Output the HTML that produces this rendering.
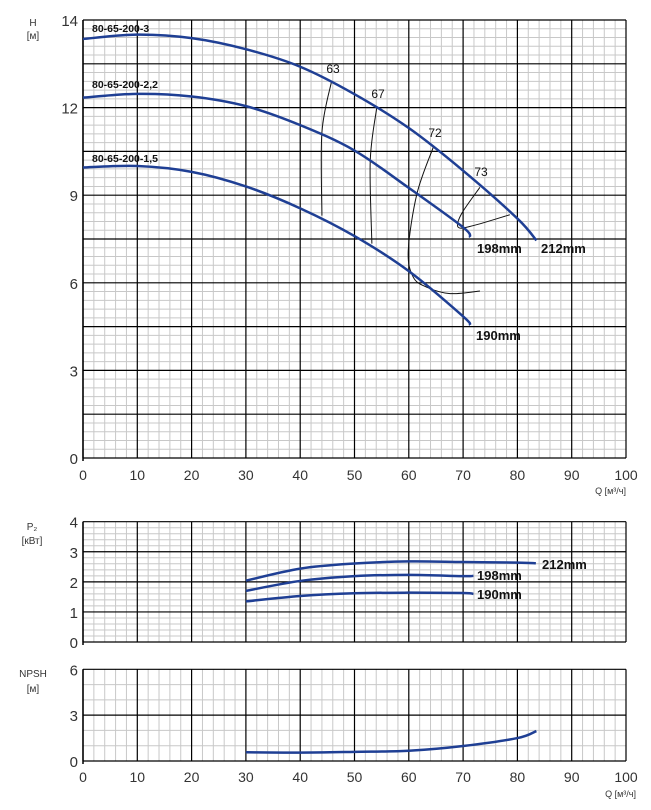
<!DOCTYPE html>
<html><head><meta charset="utf-8"><style>
body{margin:0;background:#fff;}
svg{display:block;font-family:"Liberation Sans","DejaVu Sans",sans-serif;}
</style></head><body>
<svg id="c" width="651" height="810" viewBox="0 0 651 810"></svg>
<script>
const qTicks=[0,10,20,30,40,50,60,70,80,90,100];
const hTickVals=[0,3,6,9,12];
const pTickVals=[0,1,2,3,4];
const nTickVals=[0,3,6];
const seriesNames=['212mm','198mm','190mm'];
const modelNames=['80-65-200-3','80-65-200-2,2','80-65-200-1,5'];
const hQ212=[0,10,20,30,40,50,60,70,80,83.5];
const hH212=[14.35,14.5,14.38,14.0,13.4,12.46,11.3,9.84,8.2,7.45];
const hQ198=[0,10,20,30,40,50,60,70,71.3];
const hH198=[12.34,12.47,12.38,12.05,11.4,10.53,9.25,7.9,7.56];
const hQ190=[0,10,20,30,40,50,60,70,71.3];
const hH190=[9.95,10.0,9.8,9.3,8.55,7.6,6.4,4.85,4.55];
const effLabels=['63','67','72','73'];
const eff63Q=[45.8,44.0,44.0];const eff63H=[12.92,11.15,8.3];
const eff67Q=[54.1,52.9,53.2];const eff67H=[12.0,10.18,7.34];
const eff72Q=[64.5,61.5,59.9,60.8,63.3,67.6,73.1];const eff72H=[10.64,9.05,7.1,6.2,5.85,5.63,5.72];
const eff73Q=[73.1,69.7,69.1,71.9,78.6];const eff73H=[9.27,8.36,7.9,7.96,8.33];
const pQ212=[30,40,50,60,70,80,83.4];const pP212=[2.04,2.44,2.61,2.68,2.66,2.64,2.62];
const pQ198=[30,40,50,60,70,71.9];const pP198=[1.70,2.03,2.19,2.23,2.19,2.2];
const pQ190=[30,40,50,60,70,71.9];const pP190=[1.35,1.53,1.62,1.64,1.63,1.6];
const nQ=[30,40,50,60,70,80,83.5];const nN=[0.57,0.55,0.6,0.67,0.98,1.5,1.96];

const NS='http://www.w3.org/2000/svg';
const svg=document.getElementById('c');
const X0=83,X1=626;
const xs=q=>X0+q*(X1-X0)/100;
const yH=h=>458-h*(458-20)/15;
const yP=p=>642-p*(642-521.7)/4;
const yN=n=>761-n*(761-669.3)/6;
function el(t,a,parent){const e=document.createElementNS(NS,t);for(const k in a)e.setAttribute(k,a[k]);(parent||svg).appendChild(e);return e;}
function smooth(pts){let d='M'+pts[0][0]+','+pts[0][1];for(let i=0;i<pts.length-1;i++){const p0=pts[i-1]||pts[i],p1=pts[i],p2=pts[i+1],p3=pts[i+2]||p2;const c1=[p1[0]+(p2[0]-p0[0])/6,p1[1]+(p2[1]-p0[1])/6],c2=[p2[0]-(p3[0]-p1[0])/6,p2[1]-(p3[1]-p1[1])/6];d+=' C'+c1+' '+c2+' '+p2;}return d;}
function grid(name,yTop,yBot,vMin,vMax,minorStep,majorStep,yf){
  const g=el('g',{});
  
  
  for(let q=0;q<=100;q+=2){if(q%10)el('line',{x1:xs(q),x2:xs(q),y1:yTop,y2:yBot,stroke:'#c8c8c8','stroke-width':1},g);}
  for(let v=vMin;v<=vMax+1e-6;v+=minorStep){const r=Math.round(v/majorStep*1000)/1000;if(Math.abs(r-Math.round(r))>1e-3)el('line',{x1:X0,x2:X1,y1:yf(v),y2:yf(v),stroke:'#c8c8c8','stroke-width':1},g);}
  for(let q=0;q<=100;q+=10)el('line',{x1:xs(q),x2:xs(q),y1:yTop,y2:yBot,stroke:'#000','stroke-width':1.2},g);
  for(let v=vMin;v<=vMax+1e-6;v+=majorStep)el('line',{x1:X0,x2:X1,y1:yf(v),y2:yf(v),stroke:'#000','stroke-width':1.2},g);
  el('line',{x1:X0,x2:X0,y1:yTop,y2:yBot+3,stroke:'#000','stroke-width':1.5},g);
}
function text(str,x,y,a,name){const t=el('text',Object.assign({x:x,y:y},a));t.textContent=str;return t;}
function curve(Q,V,yf,name,w,col){const p=el('path',{d:smooth(Q.map((q,i)=>[xs(q),yf(V[i])])),fill:'none',stroke:col,'stroke-width':w});}
grid('head',20,458,0,15,0.3,1.5,yH);
grid('power',521.7,642,0,4,0.2,1,yP);
grid('npsh',669.3,761,0,6,1,3,yN);
const tk={fill:'#333','font-size':15,'text-anchor':'end'};
hTickVals.forEach(v=>text(String(v),78,yH(v)+6,tk,'head-y-tick'));
text('14',78,26,tk,'head-y-tick');
pTickVals.forEach(v=>text(String(v),78,yP(v)+6,tk,'power-y-tick'));
nTickVals.forEach(v=>text(String(v),78,yN(v)+6,tk,'npsh-y-tick'));
qTicks.forEach(q=>{text(String(q),xs(q),480,{fill:'#333','font-size':14,'text-anchor':'middle'},'head-x-tick');text(String(q),xs(q),782,{fill:'#333','font-size':14,'text-anchor':'middle'},'npsh-x-tick');});
const al={fill:'#333','font-size':10,'text-anchor':'middle'};
text('H',33,26,al,'head-axis-title');text('[м]',33,39,al,'head-axis-unit');
text('P₂',32,530,al,'power-axis-title');text('[кВт]',32,544,al,'power-axis-unit');
text('NPSH',33,677,al,'npsh-axis-title');text('[м]',33,692,al,'npsh-axis-unit');
text('Q [м³/ч]',626,494,{fill:'#333','font-size':9,'text-anchor':'end'},'head-x-axis-title');
text('Q [м³/ч]',636,797,{fill:'#333','font-size':9,'text-anchor':'end'},'npsh-x-axis-title');
[[eff63Q,eff63H],[eff67Q,eff67H],[eff72Q,eff72H],[eff73Q,eff73H]].forEach((e,i)=>curve(e[0],e[1],yH,'efficiency-curve-'+effLabels[i],1,'#111'));
const eLab=[[333,73],[378,98],[435,137],[481,176]];
effLabels.forEach((l,i)=>text(l,eLab[i][0],eLab[i][1],{fill:'#111','font-size':12,'text-anchor':'middle'},'efficiency-label-'+l));
const blue='#1f3f94';
curve(hQ212,hH212,yH,'head-curve-212mm',2.5,blue);
curve(hQ198,hH198,yH,'head-curve-198mm',2.5,blue);
curve(hQ190,hH190,yH,'head-curve-190mm',2.5,blue);
curve(pQ212,pP212,yP,'power-curve-212mm',2.5,blue);
curve(pQ198,pP198,yP,'power-curve-198mm',2.5,blue);
curve(pQ190,pP190,yP,'power-curve-190mm',2.5,blue);
curve(nQ,nN,yN,'npsh-curve',2.5,blue);
const b={fill:'#111','font-size':13,'font-weight':'bold'};
text(seriesNames[1],477,253,b,'head-label-198mm');
text(seriesNames[0],541,253,b,'head-label-212mm');
text(seriesNames[2],476,340,b,'head-label-190mm');
text(seriesNames[0],542,569,b,'power-label-212mm');
text(seriesNames[1],477,580,b,'power-label-198mm');
text(seriesNames[2],477,599,b,'power-label-190mm');
const m={fill:'#111','font-size':10.5,'font-weight':'bold'};
text(modelNames[0],92,32,m,'model-label-3');
text(modelNames[1],92,88,m,'model-label-2-2');
text(modelNames[2],92,162,m,'model-label-1-5');
</script>
</body></html>
